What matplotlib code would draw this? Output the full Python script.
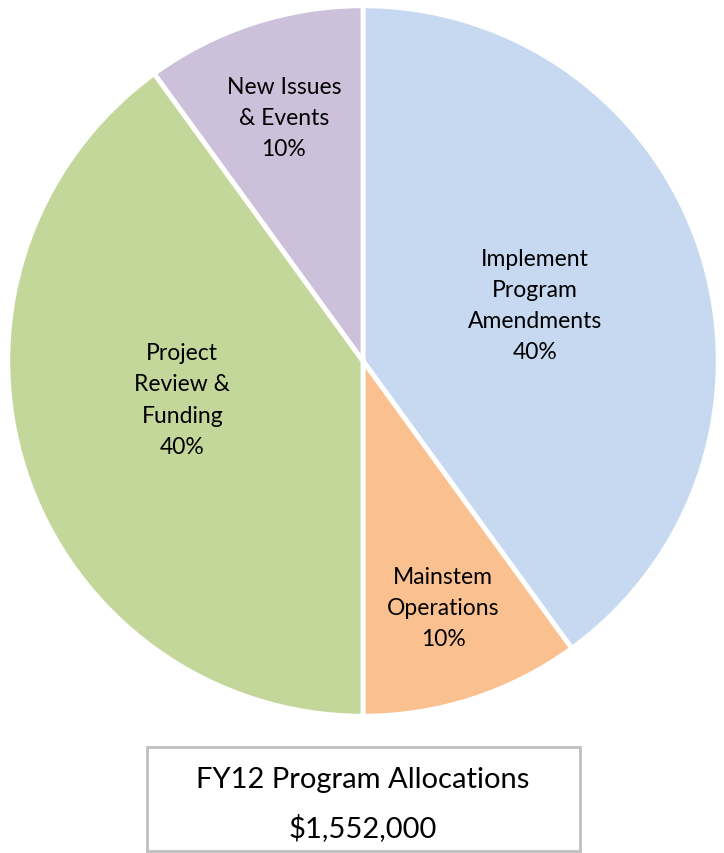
import numpy as np
import matplotlib.pyplot as plt
from matplotlib.patches import Rectangle

labels = ['Implement\nProgram\nAmendments', 'Mainstem\nOperations',
          'Project\nReview &\nFunding', 'New Issues\n& Events']
shares = [40, 10, 40, 10]
colors = ['#C6D9F1', '#FAC090', '#C4D79B', '#CCC0DA']
title_lines = ['FY12 Program Allocations', '$1,552,000']

# label distance from centre (fraction of radius) and angle nudge, per slice
label_r = [0.51, 0.73, 0.52, 0.72]
label_nudge = [0, 0, 6, 0]

plt.rcParams['font.family'] = ['Lato', 'DejaVu Sans']

W, H = 724, 854
fig = plt.figure(figsize=(W / 100, H / 100), dpi=100)

cx, cy, R = 363, 362, 357
ax = fig.add_axes([(cx - R) / W, 1 - (cy + R) / H, 2 * R / W, 2 * R / H])
wedges, _ = ax.pie(shares, colors=colors, startangle=90, counterclock=False,
                   radius=1, wedgeprops=dict(edgecolor='white', linewidth=3.5))
ax.set_xlim(-1.005, 1.005)
ax.set_ylim(-1.005, 1.005)
ax.set_aspect('equal')
ax.axis('off')

for w, lab, pct, r, nd in zip(wedges, labels, shares, label_r, label_nudge):
    ang = np.deg2rad((w.theta1 + w.theta2) / 2 - nd)
    ax.text(r * np.cos(ang), r * np.sin(ang), f'{lab}\n{pct}%',
            ha='center', va='center', fontsize=16.5, linespacing=1.6,
            color='#000000')

# title box
bx0, by0, bx1, by1 = 147, 748, 580, 852
fig.patches.append(Rectangle((bx0 / W, 1 - by1 / H), (bx1 - bx0) / W, (by1 - by0) / H,
                             transform=fig.transFigure, facecolor='white',
                             edgecolor='#BFBFBF', linewidth=2))
fig.text(363 / W, 1 - 780 / H, title_lines[0], ha='center', va='center', fontsize=21)
fig.text(363 / W, 1 - 828 / H, title_lines[1], ha='center', va='center', fontsize=21)

fig.savefig('out.png', dpi=100)
